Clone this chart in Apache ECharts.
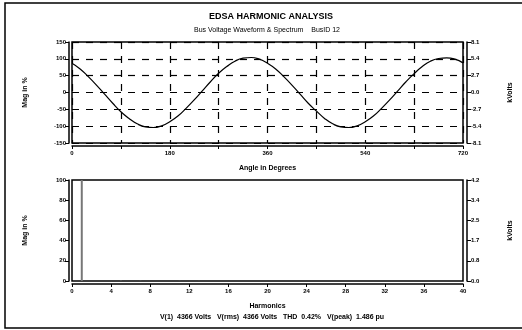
<!DOCTYPE html>
<html>
<head>
<meta charset="utf-8">
<script src="https://cdn.jsdelivr.net/npm/echarts@6/dist/echarts.min.js"></script>
<style>
  html, body { margin: 0; padding: 0; background: #fff; }
  #chartmain { width: 522px; height: 330px; }
</style>
</head>
<body>
<div id="chartmain"></div>
<script>
// 波形数据 (角度, 幅值%)
var waveAngles = [0, 15, 30, 45, 60, 75, 90, 105, 120, 135, 150, 165, 180, 195, 210, 225, 240, 255, 270, 285, 300, 315, 330, 345,
  360, 375, 390, 405, 420, 435, 450, 465, 480, 495, 510, 525, 540, 555, 570, 585, 600, 615, 630, 645, 660, 675, 690, 705, 720];
var waveValues = [87, 70, 47, 22, -5, -32, -57, -77, -93, -102, -104, -99, -87, -70, -47, -22, 5, 32, 57, 77, 93, 102, 104, 99,
  87, 70, 47, 22, -5, -32, -55, -77, -93, -102, -104, -99, -87, -70, -47, -22, 5, 32, 56, 77, 93, 101, 103, 99, 88];

// 频谱数据 (谐波次数, 幅值%)
var harmonics = [1, 5, 7, 11, 13];
var harmonicMags = [100, 0.3, 0.2, 0.15, 0.1];

// 刻度标签
var waveAngleLabels = ['0', '180', '360', '540', '720'];
var waveKvLabels = ['-8.1', '-5.4', '-2.7', '0.0', '2.7', '5.4', '8.1'];
var specKvLabels = ['0.0', '0.8', '1.7', '2.5', '3.4', '4.2'];

var statsText = 'V(1)  4366 Volts   V(rms)  4366 Volts   THD  0.42%   V(peak)  1.486 pu';

var waveData = waveAngles.map(function (a, i) { return [a, waveValues[i]]; });
var specData = harmonics.map(function (h, i) { return [h, harmonicMags[i]]; });

var font = 'Liberation Sans, Arial, sans-serif';
var tickLbl = { fontSize: 6, fontWeight: 'bold', color: '#000', fontFamily: font };
var nameLbl = { fontSize: 7, fontWeight: 'bold', color: '#000', fontFamily: font };

var myChart = echarts.init(document.getElementById('chartmain'));

var option = {
  backgroundColor: '#fff',
  animation: false,
  title: [
    { text: 'EDSA HARMONIC ANALYSIS', left: 266, top: 7, textAlign: 'center',
      textStyle: { fontSize: 9, fontWeight: 'bold', color: '#000', fontFamily: font } },
    { text: 'Bus Voltage Waveform & Spectrum    BusID 12', left: 262, top: 22, textAlign: 'center',
      textStyle: { fontSize: 7, fontWeight: 'normal', color: '#000', fontFamily: font } },
    { text: statsText, left: 267, top: 309, textAlign: 'center',
      textStyle: { fontSize: 7, fontWeight: 'bold', color: '#000', fontFamily: font } }
  ],
  graphic: [
    { type: 'polyline', shape: { points: [[522, 3], [5, 3], [5, 328], [522, 328]] },
      style: { stroke: '#000', lineWidth: 1.5, fill: null } }
  ],
  grid: [
    { left: 72, right: 59, top: 42, height: 101, show: true, borderColor: '#000', borderWidth: 1.5 },
    { left: 72, right: 59, top: 180, height: 101, show: true, borderColor: '#000', borderWidth: 1.5 }
  ],
  xAxis: [
    { type: 'value', gridIndex: 0, min: 0, max: 720, interval: 90, offset: 3,
      name: 'Angle in Degrees', nameLocation: 'middle', nameGap: 19, nameTextStyle: nameLbl,
      axisLine: { show: true, onZero: false, lineStyle: { color: '#000', width: 1.5 } },
      axisTick: { show: true, length: 3, lineStyle: { color: '#000' } },
      axisLabel: Object.assign({ margin: 4, formatter: function (v) {
        return v % 180 === 0 ? waveAngleLabels[v / 180] : ''; } }, tickLbl),
      splitLine: { show: true, lineStyle: { color: '#000', type: [7, 7], width: 1.2 } } },
    { type: 'value', gridIndex: 1, min: 0, max: 40, interval: 4, offset: 3,
      name: 'Harmonics', nameLocation: 'middle', nameGap: 19, nameTextStyle: nameLbl,
      axisLine: { show: true, onZero: false, lineStyle: { color: '#000', width: 1.5 } },
      axisTick: { show: true, length: 3, lineStyle: { color: '#000' } },
      axisLabel: Object.assign({ margin: 4 }, tickLbl),
      splitLine: { show: false } }
  ],
  yAxis: [
    { type: 'value', gridIndex: 0, min: -150, max: 150, interval: 50, offset: 3,
      name: 'Mag in %', nameLocation: 'middle', nameGap: 40, nameTextStyle: nameLbl,
      axisLine: { show: true, onZero: false, lineStyle: { color: '#000', width: 1.5 } },
      axisTick: { show: true, length: 4, lineStyle: { color: '#000' } },
      axisLabel: Object.assign({ margin: 3 }, tickLbl),
      splitLine: { show: true, lineStyle: { color: '#000', type: [7, 7], width: 1.2 } } },
    { type: 'value', gridIndex: 0, position: 'right', min: -150, max: 150, interval: 50, offset: 4,
      name: 'kVolts', nameLocation: 'middle', nameGap: 40, nameTextStyle: nameLbl,
      axisLine: { show: true, onZero: false, lineStyle: { color: '#000', width: 1.5 } },
      axisTick: { show: true, length: 4, lineStyle: { color: '#000' } },
      axisLabel: Object.assign({ margin: 4, formatter: function (v, i) { return waveKvLabels[i]; } }, tickLbl),
      splitLine: { show: false } },
    { type: 'value', gridIndex: 1, min: 0, max: 100, interval: 20, offset: 3,
      name: 'Mag in %', nameLocation: 'middle', nameGap: 40, nameTextStyle: nameLbl,
      axisLine: { show: true, onZero: false, lineStyle: { color: '#000', width: 1.5 } },
      axisTick: { show: true, length: 4, lineStyle: { color: '#000' } },
      axisLabel: Object.assign({ margin: 3 }, tickLbl),
      splitLine: { show: false } },
    { type: 'value', gridIndex: 1, position: 'right', min: 0, max: 100, interval: 20, offset: 4,
      name: 'kVolts', nameLocation: 'middle', nameGap: 40, nameTextStyle: nameLbl,
      axisLine: { show: true, onZero: false, lineStyle: { color: '#000', width: 1.5 } },
      axisTick: { show: true, length: 4, lineStyle: { color: '#000' } },
      axisLabel: Object.assign({ margin: 4, formatter: function (v, i) { return specKvLabels[i]; } }, tickLbl),
      splitLine: { show: false } }
  ],
  series: [
    { name: 'Waveform', type: 'line', xAxisIndex: 0, yAxisIndex: 0, data: waveData,
      smooth: true, showSymbol: false, lineStyle: { color: '#000', width: 1.2 } },
    { name: 'Spectrum', type: 'bar', xAxisIndex: 1, yAxisIndex: 2, data: specData,
      barWidth: 2, itemStyle: { color: '#777' } }
  ]
};

myChart.setOption(option);
window.addEventListener('resize', function () {
  myChart.resize();
});
</script>
</body>
</html>
